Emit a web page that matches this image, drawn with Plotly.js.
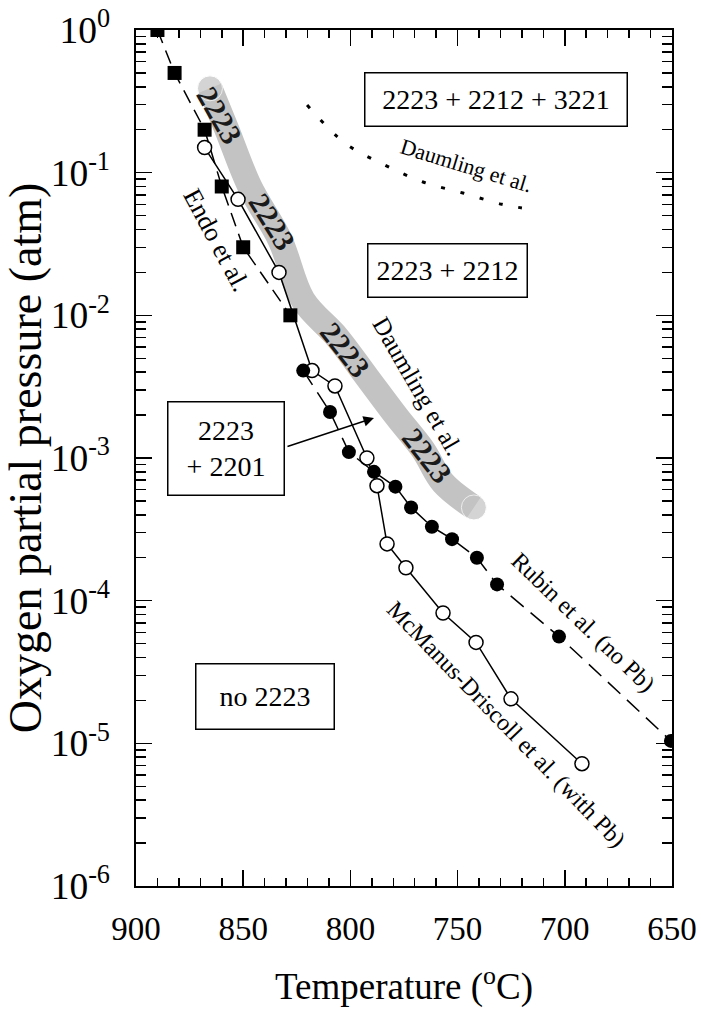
<!DOCTYPE html>
<html>
<head>
<meta charset="utf-8">
<script src="https://cdn.plot.ly/plotly-3.0.1.min.js"></script>
<style>
  html, body { margin: 0; padding: 0; background: #fff; }
  #chart { width: 701px; height: 1021px; }
</style>
</head>
<body>
<div id="chart"></div>
<script>
// ---- Data ----
// Endo et al. (filled squares, dashed)
const endoT = [890, 882, 868, 860, 850, 828];
const endoP = [1.0, 0.5, 0.2, 0.08, 0.03, 0.01];

// Rubin et al. (no Pb) (filled circles, long dashes)
const rubinT = [822, 809.5, 800.7, 789, 779, 771.7, 762, 752.6, 741, 731.6, 702.7, 650.5];
const rubinP = [4.1e-3, 2.1e-3, 1.1e-3, 8e-4, 6.3e-4, 4.5e-4, 3.3e-4, 2.7e-4, 2.0e-4, 1.3e-4, 5.6e-5, 1.04e-5];

// McManus-Driscoll et al. (with Pb) (open circles, solid)
const mcmT = [868, 852.4, 833.3, 817.9, 807.2, 792.3, 787.6, 782.9, 774.1, 756.8, 741.4, 725.1, 692];
const mcmP = [0.15, 0.065, 0.020, 4.1e-3, 3.2e-3, 1.0e-3, 6.4e-4, 2.5e-4, 1.7e-4, 8.2e-5, 5.1e-5, 2.05e-5, 7.2e-6];

// Daumling et al. shaded 2223 band (centre line)
const bandT = [865.5, 857.6, 846.8, 832.8, 822.1, 806.3, 792.3, 778.3, 766.1, 756.8, 742.4];
const bandP = [0.39, 0.2, 0.079, 0.0337, 0.0128, 7.06e-3, 3.7e-3, 1.94e-3, 1.14e-3, 6.7e-4, 4.5e-4];

// Daumling et al. dotted upper boundary
const dotT = [820.2, 802.5, 783.9, 766.1, 747.5, 729.3, 720];
const dotP = [0.298, 0.161, 0.113, 0.086, 0.072, 0.060, 0.0566];

// Axis tick labels
const xTickVals = [900, 850, 800, 750, 700, 650];
const xTickText = ['900', '850', '800', '750', '700', '650'];
const yTickVals = [1e-6, 1e-5, 1e-4, 1e-3, 1e-2, 1e-1, 1];
const yTickText = ['10<sup>-6</sup>', '10<sup>-5</sup>', '10<sup>-4</sup>', '10<sup>-3</sup>', '10<sup>-2</sup>', '10<sup>-1</sup>', '10<sup>0</sup>'];

// Phase-field labels
const boxTexts = ['2223 + 2212 + 3221', '2223 + 2212', '2223<br>+ 2201', 'no 2223'];
const boxT = [732.1, 754.5, 858.0, 839.8];
const boxLogP = [-0.49, -1.689, -2.936, -4.674];

// Band "2223" labels
const bandLabelT = [860.8, 836.6, 802.5, 764.2];
const bandLabelLogP = [-0.596, -1.345, -2.242, -2.985];
const bandLabelAngle = [60, 58, 52, 52];

// Curve labels
const curveLabels = ['Endo et al.', 'Daumling et al.', 'Daumling et al.', 'Rubin et al. (no Pb)', 'McManus-Driscoll et al. (with Pb)'];
const curveLabelT = [862.2, 768.5, 746.1, 691.5, 727.4];
const curveLabelLogP = [-1.472, -2.50, -0.953, -4.149, -4.863];
const curveLabelAngle = [62, 60, 17, 44, 46];

// ---- Traces ----
const FONT = '"Liberation Serif", "Times New Roman", Times, serif';
const traces = [
  {
    x: bandT, y: bandP, type: 'scatter', mode: 'lines+markers',
    line: {color: '#c3c3c3', width: 25, shape: 'spline'},
    marker: {color: '#c3c3c3', size: bandT.map((_, i) => (i === 0 || i === bandT.length - 1) ? 25 : 0)},
    hoverinfo: 'skip'
  },
  {
    x: dotT, y: dotP, type: 'scatter', mode: 'lines',
    line: {color: 'black', width: 3, dash: '4px,16px', shape: 'spline'}
  },
  {
    x: mcmT, y: mcmP, type: 'scatter', mode: 'lines+markers',
    line: {color: 'black', width: 1.5},
    marker: {symbol: 'circle', size: 14, color: 'white', line: {color: 'black', width: 1.5}}
  },
  {
    x: endoT, y: endoP, type: 'scatter', mode: 'lines+markers',
    line: {color: 'black', width: 1.5, dash: '14px,8px'},
    marker: {symbol: 'square', size: 14, color: 'black'}
  },
  {
    x: rubinT, y: rubinP, type: 'scatter', mode: 'lines+markers',
    line: {color: 'black', width: 1.5, dash: '17px,9px'},
    marker: {symbol: 'circle', size: 14, color: 'black'}
  }
];

// ---- Annotations ----
const annotations = [];
const boxW = [255, 152, 109, 131];
const boxH = [46, 46, 86, 58];
boxTexts.forEach((t, i) => {
  annotations.push({
    x: boxT[i], y: boxLogP[i], xref: 'x', yref: 'y', text: t,
    showarrow: false, font: {family: FONT, size: 28, color: 'black'},
    bordercolor: 'black', borderwidth: 1.5, borderpad: 3, bgcolor: 'white',
    width: boxW[i], height: boxH[i], align: 'center'
  });
});
// arrow from the "2223 + 2201" box towards the band
annotations.push({
  x: 789.0, y: -2.719, xref: 'x', yref: 'y', text: '',
  showarrow: true, arrowhead: 2, arrowsize: 1.4, arrowwidth: 1.5, arrowcolor: 'black',
  ax: -88, ay: 29
});
bandLabelT.forEach((t, i) => {
  annotations.push({
    x: t, y: bandLabelLogP[i], xref: 'x', yref: 'y', text: '<b>2223</b>',
    showarrow: false, textangle: bandLabelAngle[i],
    font: {family: FONT, size: 30, color: '#1a1a1a'}
  });
});
const curveFont = [26, 25, 22, 24, 24];
curveLabels.forEach((t, i) => {
  annotations.push({
    x: curveLabelT[i], y: curveLabelLogP[i], xref: 'x', yref: 'y', text: t,
    showarrow: false, textangle: curveLabelAngle[i],
    font: {family: FONT, size: curveFont[i], color: 'black'}
  });
});

// y labels via alias of default log labels
const yAlias = {};
const MINUS = '\u2212';
yTickVals.forEach((v, i) => {
  const p = Math.round(Math.log10(v));
  const def = p === 0 ? '1' : '10<sup>' + (p < 0 ? MINUS : '') + Math.abs(p) + '</sup>';
  yAlias[def] = yTickText[i];
});

const layout = {
  width: 701, height: 1021,
  margin: {l: 136, r: 29, t: 30, b: 135},
  paper_bgcolor: 'white', plot_bgcolor: 'white',
  showlegend: false,
  font: {family: FONT, color: 'black'},
  xaxis: {
    range: [900, 650], tickmode: 'array', tickvals: xTickVals, ticktext: xTickText,
    ticks: 'inside', ticklen: 16, tickwidth: 1.5, tickcolor: 'black',
    showline: true, linewidth: 2, linecolor: 'black', mirror: 'ticks',
    showgrid: false, zeroline: false,
    tickfont: {family: FONT, size: 33, color: 'black'},
    ticklabelstandoff: 12,
    minor: {dtick: 10, tick0: 650, ticks: 'inside', ticklen: 8, tickwidth: 1.5, tickcolor: 'black', showgrid: false},
    title: {text: 'Temperature (<sup>o</sup>C)', font: {family: FONT, size: 37, color: 'black'}, standoff: 28}
  },
  yaxis: {
    type: 'log', range: [-6, 0], dtick: 1, exponentformat: 'power', labelalias: yAlias,
    ticks: 'inside', ticklen: 16, tickwidth: 1.5, tickcolor: 'black',
    showline: true, linewidth: 2, linecolor: 'black', mirror: 'ticks',
    showgrid: false, zeroline: false,
    tickfont: {family: FONT, size: 30, color: 'black'},
    ticklabelstandoff: 18,
    minor: {dtick: 'D1', ticks: 'inside', ticklen: 10, tickwidth: 1.5, tickcolor: 'black', showgrid: false},
    title: {text: 'Oxygen partial pressure (atm)', font: {family: FONT, size: 46, color: 'black'}, standoff: 12}
  },
  annotations: annotations
};

Plotly.newPlot('chart', traces, layout, {displayModeBar: false, staticPlot: true});
</script>
</body>
</html>
